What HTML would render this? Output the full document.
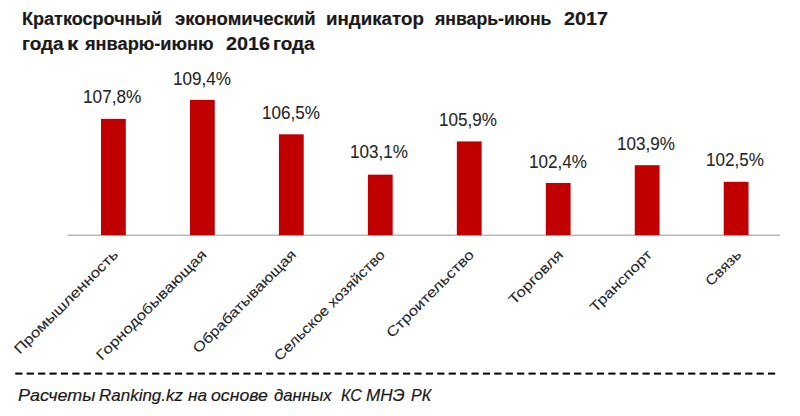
<!DOCTYPE html>
<html><head><meta charset="utf-8"><style>
html,body{margin:0;padding:0;background:#fff;width:800px;height:416px;overflow:hidden;}
body{position:relative;font-family:"Liberation Sans",sans-serif;}
.w{position:absolute;white-space:nowrap;line-height:1;transform-origin:0 0;-webkit-text-stroke:0.2px currentColor;}
.c{position:absolute;white-space:nowrap;line-height:1;transform-origin:100% 50%;transform:rotate(-45deg);color:#262626;-webkit-text-stroke:0.1px currentColor;}
svg{position:absolute;left:0;top:0;}
</style></head><body>
<svg width="800" height="416" viewBox="0 0 800 416"><rect x="67.5" y="234.5" width="712.5" height="1.5" fill="#b8b8b8"/><rect x="101.00" y="118.87" width="24.8" height="116.33" fill="#c00000"/><rect x="189.96" y="99.88" width="24.8" height="135.32" fill="#c00000"/><rect x="278.92" y="134.31" width="24.8" height="100.89" fill="#c00000"/><rect x="367.88" y="174.66" width="24.8" height="60.54" fill="#c00000"/><rect x="456.84" y="141.43" width="24.8" height="93.77" fill="#c00000"/><rect x="545.80" y="182.97" width="24.8" height="52.23" fill="#c00000"/><rect x="634.76" y="165.17" width="24.8" height="70.03" fill="#c00000"/><rect x="723.72" y="181.78" width="24.8" height="53.41" fill="#c00000"/><rect x="15.25" y="372.6" width="7.2" height="2" fill="#000"/><rect x="26.66" y="372.6" width="7.2" height="2" fill="#000"/><rect x="38.06" y="372.6" width="7.2" height="2" fill="#000"/><rect x="49.46" y="372.6" width="7.2" height="2" fill="#000"/><rect x="60.87" y="372.6" width="7.2" height="2" fill="#000"/><rect x="72.28" y="372.6" width="7.2" height="2" fill="#000"/><rect x="83.68" y="372.6" width="7.2" height="2" fill="#000"/><rect x="95.08" y="372.6" width="7.2" height="2" fill="#000"/><rect x="106.49" y="372.6" width="7.2" height="2" fill="#000"/><rect x="117.89" y="372.6" width="7.2" height="2" fill="#000"/><rect x="129.30" y="372.6" width="7.2" height="2" fill="#000"/><rect x="140.70" y="372.6" width="7.2" height="2" fill="#000"/><rect x="152.11" y="372.6" width="7.2" height="2" fill="#000"/><rect x="163.51" y="372.6" width="7.2" height="2" fill="#000"/><rect x="174.92" y="372.6" width="7.2" height="2" fill="#000"/><rect x="186.32" y="372.6" width="7.2" height="2" fill="#000"/><rect x="197.73" y="372.6" width="7.2" height="2" fill="#000"/><rect x="209.13" y="372.6" width="7.2" height="2" fill="#000"/><rect x="220.54" y="372.6" width="7.2" height="2" fill="#000"/><rect x="231.94" y="372.6" width="7.2" height="2" fill="#000"/><rect x="243.35" y="372.6" width="7.2" height="2" fill="#000"/><rect x="254.75" y="372.6" width="7.2" height="2" fill="#000"/><rect x="266.16" y="372.6" width="7.2" height="2" fill="#000"/><rect x="277.56" y="372.6" width="7.2" height="2" fill="#000"/><rect x="288.97" y="372.6" width="7.2" height="2" fill="#000"/><rect x="300.38" y="372.6" width="7.2" height="2" fill="#000"/><rect x="311.78" y="372.6" width="7.2" height="2" fill="#000"/><rect x="323.19" y="372.6" width="7.2" height="2" fill="#000"/><rect x="334.59" y="372.6" width="7.2" height="2" fill="#000"/><rect x="346.00" y="372.6" width="7.2" height="2" fill="#000"/><rect x="357.40" y="372.6" width="7.2" height="2" fill="#000"/><rect x="368.81" y="372.6" width="7.2" height="2" fill="#000"/><rect x="380.21" y="372.6" width="7.2" height="2" fill="#000"/><rect x="391.61" y="372.6" width="7.2" height="2" fill="#000"/><rect x="403.02" y="372.6" width="7.2" height="2" fill="#000"/><rect x="414.42" y="372.6" width="7.2" height="2" fill="#000"/><rect x="425.83" y="372.6" width="7.2" height="2" fill="#000"/><rect x="437.23" y="372.6" width="7.2" height="2" fill="#000"/><rect x="448.64" y="372.6" width="7.2" height="2" fill="#000"/><rect x="460.04" y="372.6" width="7.2" height="2" fill="#000"/><rect x="471.45" y="372.6" width="7.2" height="2" fill="#000"/><rect x="482.85" y="372.6" width="7.2" height="2" fill="#000"/><rect x="494.26" y="372.6" width="7.2" height="2" fill="#000"/><rect x="505.66" y="372.6" width="7.2" height="2" fill="#000"/><rect x="517.07" y="372.6" width="7.2" height="2" fill="#000"/><rect x="528.48" y="372.6" width="7.2" height="2" fill="#000"/><rect x="539.88" y="372.6" width="7.2" height="2" fill="#000"/><rect x="551.28" y="372.6" width="7.2" height="2" fill="#000"/><rect x="562.69" y="372.6" width="7.2" height="2" fill="#000"/><rect x="574.09" y="372.6" width="7.2" height="2" fill="#000"/><rect x="585.50" y="372.6" width="7.2" height="2" fill="#000"/><rect x="596.90" y="372.6" width="7.2" height="2" fill="#000"/><rect x="608.31" y="372.6" width="7.2" height="2" fill="#000"/><rect x="619.71" y="372.6" width="7.2" height="2" fill="#000"/><rect x="631.12" y="372.6" width="7.2" height="2" fill="#000"/><rect x="642.52" y="372.6" width="7.2" height="2" fill="#000"/><rect x="653.93" y="372.6" width="7.2" height="2" fill="#000"/><rect x="665.33" y="372.6" width="7.2" height="2" fill="#000"/><rect x="676.74" y="372.6" width="7.2" height="2" fill="#000"/><rect x="688.14" y="372.6" width="7.2" height="2" fill="#000"/><rect x="699.55" y="372.6" width="7.2" height="2" fill="#000"/><rect x="710.95" y="372.6" width="7.2" height="2" fill="#000"/><rect x="722.36" y="372.6" width="7.2" height="2" fill="#000"/><rect x="733.76" y="372.6" width="7.2" height="2" fill="#000"/><rect x="745.17" y="372.6" width="7.2" height="2" fill="#000"/><rect x="756.57" y="372.6" width="7.2" height="2" fill="#000"/><rect x="767.98" y="372.6" width="7.2" height="2" fill="#000"/></svg>
<span class="w" style="left:21.74px;top:9.76px;font-size:18.0px;font-weight:bold;font-style:normal;color:#1a1a1a;transform:scaleX(1.0032)">Краткосрочный</span>
<span class="w" style="left:174.65px;top:9.76px;font-size:18.0px;font-weight:bold;font-style:normal;color:#1a1a1a;transform:scaleX(1.0254)">экономический</span>
<span class="w" style="left:326.49px;top:9.76px;font-size:18.0px;font-weight:bold;font-style:normal;color:#1a1a1a;transform:scaleX(1.0404)">индикатор</span>
<span class="w" style="left:434.82px;top:9.76px;font-size:18.0px;font-weight:bold;font-style:normal;color:#1a1a1a;transform:scaleX(0.9811)">январь-июнь</span>
<span class="w" style="left:563.91px;top:9.76px;font-size:18.0px;font-weight:bold;font-style:normal;color:#1a1a1a;transform:scaleX(1.0982)">2017</span>
<span class="w" style="left:21.87px;top:35.36px;font-size:18.0px;font-weight:bold;font-style:normal;color:#1a1a1a;transform:scaleX(1.0563)">года</span>
<span class="w" style="left:67.42px;top:35.36px;font-size:18.0px;font-weight:bold;font-style:normal;color:#1a1a1a;transform:scaleX(1.2532)">к</span>
<span class="w" style="left:85.32px;top:35.36px;font-size:18.0px;font-weight:bold;font-style:normal;color:#1a1a1a;transform:scaleX(1.0106)">январю-июню</span>
<span class="w" style="left:225.91px;top:35.36px;font-size:18.0px;font-weight:bold;font-style:normal;color:#1a1a1a;transform:scaleX(1.0983)">2016</span>
<span class="w" style="left:273.17px;top:35.36px;font-size:18.0px;font-weight:bold;font-style:normal;color:#1a1a1a;transform:scaleX(1.0563)">года</span>
<span class="w" style="-webkit-text-stroke:0.1px #262626;left:83.12px;top:87.94px;font-size:18.5px;color:#262626;transform:scaleX(0.9311)">107,8%</span>
<span class="w" style="-webkit-text-stroke:0.1px #262626;left:172.63px;top:69.64px;font-size:18.5px;color:#262626;transform:scaleX(0.9229)">109,4%</span>
<span class="w" style="-webkit-text-stroke:0.1px #262626;left:262.13px;top:104.14px;font-size:18.5px;color:#262626;transform:scaleX(0.9229)">106,5%</span>
<span class="w" style="-webkit-text-stroke:0.1px #262626;left:349.63px;top:143.14px;font-size:18.5px;color:#262626;transform:scaleX(0.9229)">103,1%</span>
<span class="w" style="-webkit-text-stroke:0.1px #262626;left:439.13px;top:110.64px;font-size:18.5px;color:#262626;transform:scaleX(0.9229)">105,9%</span>
<span class="w" style="-webkit-text-stroke:0.1px #262626;left:528.63px;top:152.64px;font-size:18.5px;color:#262626;transform:scaleX(0.9229)">102,4%</span>
<span class="w" style="-webkit-text-stroke:0.1px #262626;left:616.63px;top:134.64px;font-size:18.5px;color:#262626;transform:scaleX(0.9229)">103,9%</span>
<span class="w" style="-webkit-text-stroke:0.1px #262626;left:706.13px;top:151.14px;font-size:18.5px;color:#262626;transform:scaleX(0.9229)">102,5%</span>
<span class="w" style="left:18.46px;top:387.21px;font-size:17.0px;font-weight:normal;font-style:italic;color:#1a1a1a;transform:scaleX(1.0552)">Расчеты</span>
<span class="w" style="left:98.99px;top:387.21px;font-size:17.0px;font-weight:normal;font-style:italic;color:#1a1a1a;transform:scaleX(0.9988)">Ranking.kz</span>
<span class="w" style="left:188.36px;top:387.21px;font-size:17.0px;font-weight:normal;font-style:italic;color:#1a1a1a;transform:scaleX(1.0084)">на</span>
<span class="w" style="left:211.27px;top:387.21px;font-size:17.0px;font-weight:normal;font-style:italic;color:#1a1a1a;transform:scaleX(1.0401)">основе</span>
<span class="w" style="left:273.90px;top:387.21px;font-size:17.0px;font-weight:normal;font-style:italic;color:#1a1a1a;transform:scaleX(0.9850)">данных</span>
<span class="w" style="left:340.72px;top:387.21px;font-size:17.0px;font-weight:normal;font-style:italic;color:#1a1a1a;transform:scaleX(0.9403)">КС</span>
<span class="w" style="left:366.19px;top:387.21px;font-size:17.0px;font-weight:normal;font-style:italic;color:#1a1a1a;transform:scaleX(1.0073)">МНЭ</span>
<span class="w" style="left:410.52px;top:387.21px;font-size:17.0px;font-weight:normal;font-style:italic;color:#1a1a1a;transform:scaleX(0.9430)">РК</span>
<span class="c" style="right:684.97px;top:245.00px;font-size:14.0px;transform:rotate(-45deg) scaleX(1.2050);">Промышленность</span>
<span class="c" style="right:595.91px;top:245.00px;font-size:14.0px;transform:rotate(-45deg) scaleX(1.2050);">Горнодобывающая</span>
<span class="c" style="right:506.84px;top:245.00px;font-size:14.0px;transform:rotate(-45deg) scaleX(1.1749);">Обрабатывающая</span>
<span class="c" style="right:417.78px;top:245.00px;font-size:14.0px;transform:rotate(-45deg) scaleX(1.1508);">Сельское хозяйство</span>
<span class="c" style="right:328.72px;top:245.00px;font-size:14.0px;transform:rotate(-45deg) scaleX(1.2050);">Строительство</span>
<span class="c" style="right:239.66px;top:245.00px;font-size:14.0px;transform:rotate(-45deg) scaleX(1.2050);">Торговля</span>
<span class="c" style="right:150.59px;top:245.00px;font-size:14.0px;transform:rotate(-45deg) scaleX(1.2050);">Транспорт</span>
<span class="c" style="right:61.53px;top:245.00px;font-size:14.0px;transform:rotate(-45deg) scaleX(1.1447);">Связь</span>
</body></html>
